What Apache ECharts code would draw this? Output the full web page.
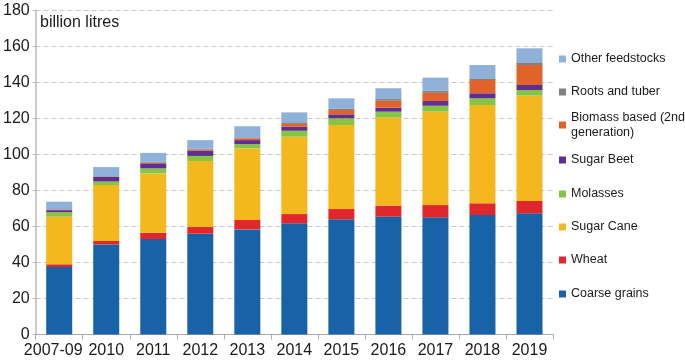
<!DOCTYPE html>
<html>
<head>
<meta charset="utf-8">
<script src="https://cdn.jsdelivr.net/npm/echarts@6/dist/echarts.min.js"></script>
<style>
  html, body { margin: 0; padding: 0; background: #fff; }
  #chart { width: 685px; height: 361px; }
</style>
</head>
<body>
<div id="chart"></div>
<script>
// periods on the x axis
var years = ['2007-09', '2010', '2011', '2012', '2013', '2014', '2015', '2016', '2017', '2018', '2019'];

// billion litres, stacked bottom to top
var coarseGrains = [37.5, 50.0, 53.0, 56.0, 58.4, 61.8, 64.0, 65.5, 65.1, 66.4, 67.3];
var wheat        = [1.5, 2.0, 3.5, 3.7, 5.2, 5.1, 5.7, 6.1, 6.8, 6.5, 6.9];
var sugarCane    = [26.5, 31.0, 33.0, 36.7, 39.8, 43.0, 46.7, 48.9, 51.9, 54.6, 58.5];
var molasses     = [2.4, 2.0, 2.8, 2.8, 2.4, 3.3, 3.7, 3.3, 3.3, 3.7, 3.1];
var sugarBeet    = [1.2, 2.5, 2.8, 3.0, 2.2, 2.2, 2.2, 2.2, 2.6, 2.8, 2.8];
var biomass      = [0.3, 0.2, 0.5, 0.6, 1.0, 1.6, 2.4, 3.9, 4.6, 7.4, 11.1];
var rootsTuber   = [0.2, 0.3, 0.3, 0.4, 0.5, 0.9, 0.7, 0.9, 1.1, 0.9, 1.5];
var otherFeed    = [4.2, 5.0, 5.0, 4.8, 6.2, 5.5, 5.8, 6.0, 7.3, 7.4, 7.8];

var yTicks = [0, 20, 40, 60, 80, 100, 120, 140, 160, 180];

var seriesDefs = [
  { name: 'Coarse grains', data: coarseGrains, color: '#1862a8' },
  { name: 'Wheat', data: wheat, color: '#e0282c' },
  { name: 'Sugar Cane', data: sugarCane, color: '#f4b81e' },
  { name: 'Molasses', data: molasses, color: '#86c443' },
  { name: 'Sugar Beet', data: sugarBeet, color: '#5e2f8e' },
  { name: 'Biomass based (2nd generation)', data: biomass, color: '#e2632a' },
  { name: 'Roots and tuber', data: rootsTuber, color: '#7f7f7f' },
  { name: 'Other feedstocks', data: otherFeed, color: '#8fb0d8' }
];

// legend rows, top to bottom (icon centre y)
var legendRows = [
  ['Other feedstocks', 59],
  ['Roots and tuber', 92],
  ['Biomass based (2nd generation)', 125],
  ['Sugar Beet', 160],
  ['Molasses', 194],
  ['Sugar Cane', 227],
  ['Wheat', 260],
  ['Coarse grains', 294]
];

var font = 'Liberation Sans, Arial, Helvetica, sans-serif';

var legends = legendRows.map(function (row) {
  var isBio = row[0].indexOf('Biomass') === 0;
  return {
    data: [row[0]],
    orient: 'vertical',
    left: 559,
    top: isBio ? row[1] - 22.5 : row[1] - 7.5,
    padding: 0,
    itemWidth: 7,
    itemHeight: 7,
    icon: 'rect',
    selectedMode: false,
    formatter: function (n) {
      return n === 'Biomass based (2nd generation)' ? 'Biomass based (2nd\ngeneration)' : n;
    },
    textStyle: {
      fontFamily: font,
      fontSize: 12.5,
      color: '#1a1a1a',
      lineHeight: 15,
      padding: isBio ? [15, 0, 0, 0] : 0
    }
  };
});

// first (wider) label sits a little left of its bar, as in the source
var xData = years.map(function (y, i) {
  return i === 0 ? { value: y, textStyle: { padding: [0, 12, 0, 0] } } : y;
});

var chart = echarts.init(document.getElementById('chart'));
chart.setOption({
  animation: false,
  backgroundColor: '#fff',
  grid: { left: 33, right: 132, top: 10.5, bottom: 26.5 },
  title: {
    text: 'billion litres',
    left: 40,
    top: 15,
    padding: 0,
    textStyle: { fontFamily: font, fontSize: 16, fontWeight: 'normal', color: '#1a1a1a' }
  },
  legend: legends,
  xAxis: {
    type: 'category',
    data: xData,
    axisLine: { lineStyle: { color: '#aaa', width: 1 } },
    axisTick: { show: true, length: 5, lineStyle: { color: '#aaa' } },
    axisLabel: { interval: 0, fontFamily: font, fontSize: 16, color: '#1a1a1a', margin: 8 }
  },
  yAxis: {
    type: 'value',
    min: yTicks[0],
    max: yTicks[yTicks.length - 1],
    interval: 20,
    axisLine: { show: true, lineStyle: { color: '#bbb', width: 1.5 } },
    axisTick: { show: true, length: 3, lineStyle: { color: '#bbb' } },
    axisLabel: { fontFamily: font, fontSize: 16, color: '#1a1a1a', margin: 6 },
    splitLine: { show: true, lineStyle: { color: '#c8c8c8', type: [5, 3] } }
  },
  series: seriesDefs.map(function (s) {
    return {
      name: s.name,
      type: 'bar',
      stack: 'total',
      barWidth: 26,
      data: s.data,
      itemStyle: { color: s.color }
    };
  })
});
</script>
</body>
</html>
